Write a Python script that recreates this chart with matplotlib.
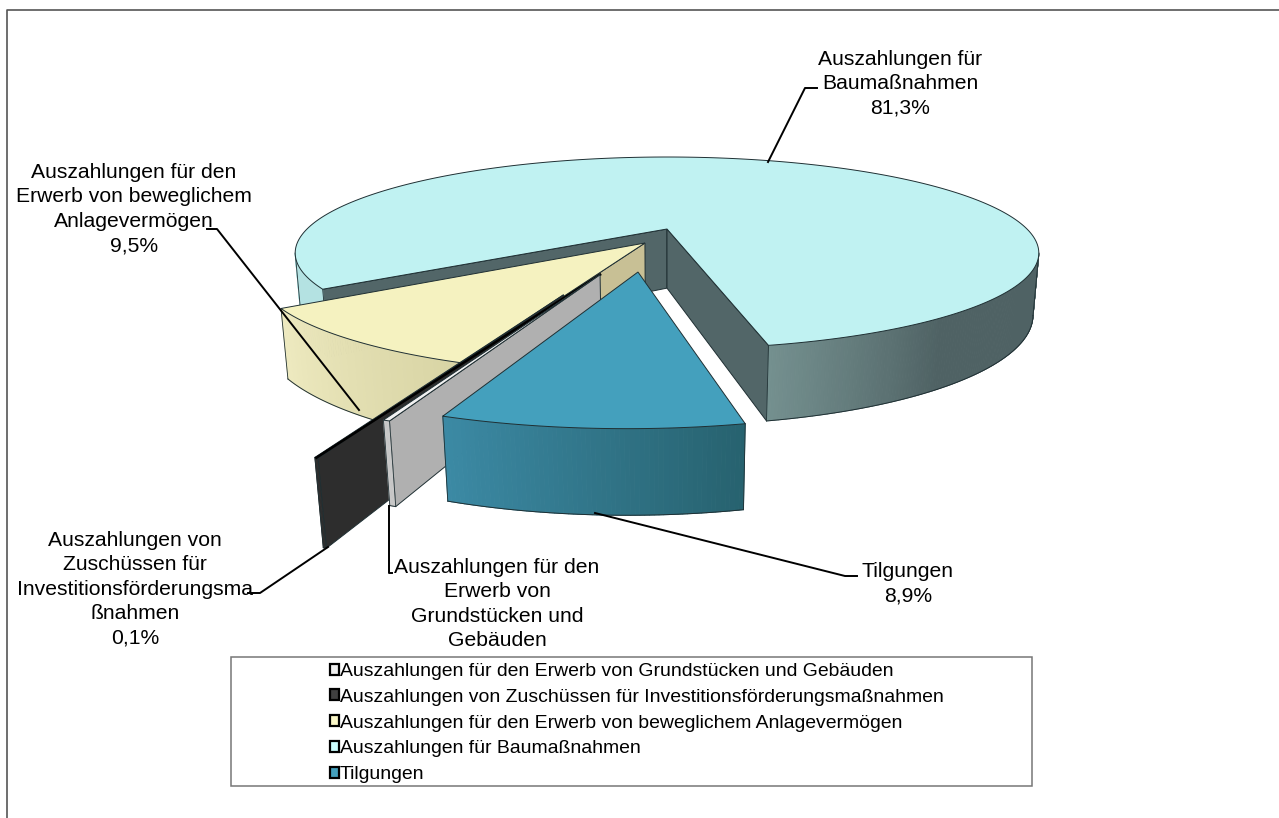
import numpy as np
import matplotlib
matplotlib.use("Agg")
import matplotlib.pyplot as plt
from matplotlib.collections import PolyCollection
from matplotlib.patches import Patch, Rectangle

plt.rcParams["font.family"] = ["Liberation Sans", "DejaVu Sans"]

# data, in the order of the legend
names = [
    "Auszahlungen für den Erwerb von Grundstücken und Gebäuden",
    "Auszahlungen von Zuschüssen für Investitionsförderungsmaßnahmen",
    "Auszahlungen für den Erwerb von beweglichem Anlagevermögen",
    "Auszahlungen für Baumaßnahmen",
    "Tilgungen",
]
shares = [0.2, 0.1, 9.5, 81.3, 8.9]
share_labels = ["0,2%", "0,1%", "9,5%", "81,3%", "8,9%"]

# colours per slice
top_colors = ["#f2f2f2", "#404040", "#f5f2c0", "#c0f2f2", "#44a0bd"]
legend_colors = ["#f0f0f0", "#404040", "#fbf8c8", "#ccffff", "#44a0bd"]
wall_colors = ["#b0b0b0", "#2d2d2d", "#c8c095", "#526668", "#2f6f85"]
rim_right = ["#c8c8c8", "#2d2d2d", "#d8d4a4", "#74908f", "#27626f"]
rim_leftside = ["#c8c8c8", "#2d2d2d", "#eeeac0", "#4f6264", "#3c8aa5"]
rim_left = "#b4e2e2"  # left end of the big slice

# camera of the fake 3d view (pixels)
XC, YC = 667, 229
S, T, D = 360, 90, 60
K, M = 0.25, 0.015
START = 12.3  # angle of the Tilgungen/Baumassnahmen cut, from south
SILHOUETTE = 75.5  # angle where the side of the disc turns away

# how far each slice was pulled out, in pie radii (x, y)
offsets = [(-0.165, -0.45), (-0.243, -0.618), (-0.059, -0.15), (0.0, 0.0), (-0.072, -0.427)]

# which cut faces can be seen: first cut, second cut
show_faces = [(True, False), (True, False), (True, False), (True, True), (False, False)]


def project(x, y, z=0.0):
    w = 1 + K * y + M * z
    return XC + S * x / w, YC + (-T * y + D * z) / w


def arc(a0, a1, off, z=0.0, n=80):
    a = np.radians(np.linspace(a0, a1, n))
    return np.column_stack(project(off[0] + np.sin(a), off[1] - np.cos(a), z))


def rgb(c):
    return np.array(matplotlib.colors.to_rgb(c))


def draw_rim(ax, a_start, a_end, off, col_a, col_b, ramp, zo):
    # strip of small quads, colour goes col_a -> col_b over ramp degrees from a_start
    t = np.linspace(a_start, a_end, max(int(abs(a_end - a_start)) * 2, 2) + 1)
    polys, cols = [], []
    for j in range(len(t) - 1):
        polys.append(np.vstack([arc(t[j], t[j + 1], off, 0, 3), arc(t[j + 1], t[j], off, 1, 3)]))
        f = min(abs(t[j] - a_start) / ramp, 1)
        cols.append(rgb(col_a) * (1 - f) + rgb(col_b) * f)
    ax.add_collection(PolyCollection(polys, facecolors=cols, edgecolors=cols, linewidths=0.7, zorder=zo))
    ax.plot(*arc(a_start, a_end, off, 1).T, color="#1f2f33", lw=0.7, zorder=zo + 0.1)
    for ang in (a_start, a_end):
        side = np.vstack([arc(ang, ang, off, 0, 1), arc(ang, ang, off, 1, 1)])
        ax.plot(*side.T, color="#1f2f33", lw=0.6, zorder=zo + 0.1)


def draw_slice(ax, a0, a1, i, zo):
    off = offsets[i]
    edge = "#1f2f33"
    lw = 0.7
    apex_t = project(off[0], off[1], 0)
    apex_b = project(off[0], off[1], 1)

    # cut faces
    for ang, shown in zip((a0, a1), show_faces[i]):
        if shown:
            rim_t = arc(ang, ang, off, 0, 1)[0]
            rim_b = arc(ang, ang, off, 1, 1)[0]
            face = np.array([apex_t, rim_t, rim_b, apex_b])
            ax.fill(*face.T, facecolor=wall_colors[i], edgecolor=edge, lw=lw, zorder=zo)

    # rim, only the part that faces the viewer
    if a1 < -180:  # the big slice goes round the back, two visible pieces
        draw_rim(ax, a0, -SILHOUETTE, off, rim_left, rim_left, 10, zo + 0.2)
        draw_rim(ax, a1, -360 + SILHOUETTE, off, rim_right[i], rim_leftside[i], 25, zo + 0.2)
    else:
        draw_rim(ax, a0, a1, off, rim_right[i], rim_leftside[i], max(a0 - a1, 1), zo + 0.2)

    # top
    top = np.vstack([[apex_t], arc(a0, a1, off, 0, 300)])
    ax.fill(*top.T, facecolor=top_colors[i], edgecolor=edge, lw=lw, zorder=zo + 0.4)


fig = plt.figure(figsize=(12.79, 8.18), dpi=100)
ax = fig.add_axes([0, 0, 1, 1])
ax.set_xlim(0, 1279)
ax.set_ylim(818, 0)
ax.axis("off")

# outer chart frame, only the top and left edges are in the picture
ax.plot([7, 7, 1279], [818, 9.5, 9.5], color="#555555", lw=1.2, zorder=0)

# slice angles from the shares, going clockwise from the START cut
spans = np.array(shares) / sum(shares) * 360
order = [4, 0, 1, 2, 3]
zorders = {3: 1, 2: 2, 1: 3, 0: 4, 4: 5}
angle = START
for i in order:
    draw_slice(ax, angle, angle - spans[i], i, zorders[i])
    angle -= spans[i]

# the dark line between yellow and the grey slice runs up to the grey apex
black_angle = START - spans[4] - spans[0] - spans[1] / 2
line_end = arc(black_angle, black_angle, offsets[1], 0, 1)[0]
grey_apex = project(*offsets[0])
ax.plot([line_end[0], grey_apex[0]], [line_end[1], grey_apex[1]], color="black", lw=1.8, zorder=3.9)

# leader lines
leaders = [
    [(768, 162), (805, 88), (817, 88)],
    [(359, 410), (217, 229), (207, 229)],
    [(328, 547), (260, 593), (248, 593)],
    [(389, 506), (389, 573), (392, 573)],
    [(595, 513), (845, 576), (857, 576)],
]
for pts in leaders:
    ax.plot(*np.array(pts).T, color="black", lw=1.4, zorder=7)

# data labels
label_text = [
    "Auszahlungen für den\nErwerb von\nGrundstücken und\nGebäuden\n" + share_labels[0],
    "Auszahlungen von\nZuschüssen für\nInvestitionsförderungsma\nßnahmen\n" + share_labels[1],
    "Auszahlungen für den\nErwerb von beweglichem\nAnlagevermögen\n" + share_labels[2],
    "Auszahlungen für\nBaumaßnahmen\n" + share_labels[3],
    "Tilgungen\n" + share_labels[4],
]
label_pos = [(497, 558), (135, 531), (134, 163), (900, 50), (908, 562)]
for txt, (x, y) in zip(label_text, label_pos):
    ax.text(x, y, txt, fontsize=15.2, ha="center", va="top", linespacing=1.36, zorder=8)

# legend box sits on top of the clipped label, same as the original
ax.add_patch(Rectangle((231, 657), 801, 129, facecolor="white", edgecolor="#777777", lw=1.1, zorder=9))
handles = [Patch(facecolor=c, edgecolor="black", lw=1.6) for c in legend_colors]
leg = ax.legend(
    handles, names, loc="upper left", bbox_to_anchor=(330, 663), bbox_transform=ax.transData,
    frameon=False, fontsize=13.95, handlelength=0.45, handleheight=0.5, handletextpad=0.06,
    labelspacing=0.455, borderpad=0, borderaxespad=0,
)
leg.set_zorder(10)

fig.savefig("out.png", dpi=100)
